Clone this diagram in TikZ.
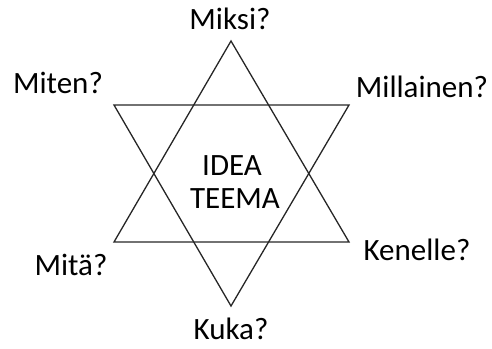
\documentclass[tikz,border=0pt]{standalone}
\usepackage{fontspec}
\setmainfont{Carlito}
\usepackage{tikz}

\tikzset{
    question/.style={anchor=base,inner sep=0pt,font=\fontsize{31}{33}\selectfont},
    starline/.style={line width=1.3pt,black!85,line join=miter}
}

\begin{document}
\begin{tikzpicture}[x=1pt,y=-1pt]
    \useasboundingbox (0,0) rectangle (492,348);
    % Star corners: two triangles, one pointing up and one pointing down.
    \coordinate (up)  at (231,41);
    \coordinate (ubl) at (114,242);
    \coordinate (ubr) at (349,242);
    \coordinate (down) at (231,306);
    \coordinate (dtl)  at (114,105);
    \coordinate (dtr)  at (349,105);
    \draw[starline] (up) -- (ubr) -- (ubl) -- cycle;
    \draw[starline] (down) -- (dtl) -- (dtr) -- cycle;

    % Centre text
    \node[question] (idea) at (232,175) {IDEA};
    \node[question] (teema) at (235,208) {TEEMA};

    % Questions round the star
    \node[question] (miksi) at (230,29) {Miksi?};
    \node[question] (miten) at (58,93) {Miten?};
    \node[question] (millainen) at (422,97) {Millainen?};
    \node[question] (mita) at (71,275) {Mitä?};
    \node[question] (kenelle) at (417,260) {Kenelle?};
    \node[question,text depth=0pt] (kuka) at (231,339) {Kuka?};
\end{tikzpicture}
\end{document}
